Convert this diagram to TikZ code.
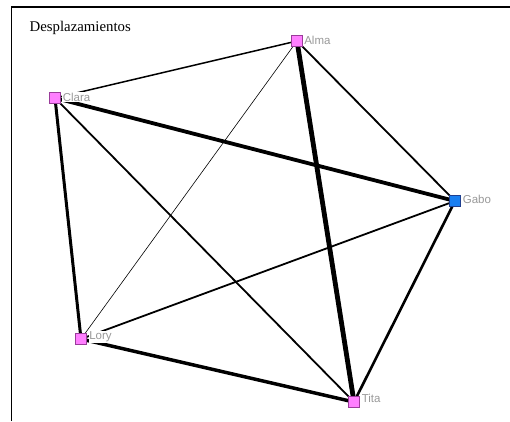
\documentclass[tikz,border=0pt]{standalone}
\usepackage{fontspec}
\setmainfont{Liberation Serif}
\setsansfont{Liberation Sans}
\definecolor{nodepink}{HTML}{FF7FFF}
\definecolor{pinkedge}{HTML}{9A3C9A}
\definecolor{nodeblue}{HTML}{1A7FF0}
\definecolor{blueedge}{HTML}{1F3F8F}
\definecolor{labgray}{HTML}{999999}
\tikzset{
  actor/.style={draw=pinkedge, fill=nodepink, line width=0.8pt, minimum size=11.5pt, inner sep=0pt},
  actorb/.style={actor, draw=blueedge, fill=nodeblue},
  lab/.style={font=\sffamily\fontsize{11.5}{11.5}\selectfont, text=labgray, fill=white, inner sep=0.6pt, anchor=west},
  tie/.style={line width=#1, line cap=round},
  frame/.style={line width=1.8pt}
}
\begin{document}
\begin{tikzpicture}[x=1pt,y=-1pt]
\useasboundingbox (0,0) rectangle (510,421);
\fill[white] (0,0) rectangle (510,421);
\draw[frame] (11.5,421) -- (11.5,7) -- (510,7);
\node[font=\fontsize{14.8}{15}\selectfont, anchor=west, inner sep=0pt] (title) at (29.5,28) {Desplazamientos};
% nodes
\node[actor] (alma) at (297,41) {};
\node[actor] (clara) at (55,98) {};
\node[actorb] (gabo) at (455,201) {};
\node[actor] (lory) at (81,339) {};
\node[actor] (tita) at (354,402) {};
% edges
\draw[tie=1.5pt] (alma.center) -- (clara.center);
\draw[tie=3.8pt] (clara.center) -- (gabo.center);
\draw[tie=3pt] (clara.center) -- (lory.center);
\draw[tie=1.8pt] (clara.center) -- (tita.center);
\draw[tie=0.6pt] (alma.center) -- (lory.center);
\draw[tie=4.8pt] (alma.center) -- (tita.center);
\draw[tie=1.8pt] (alma.center) -- (gabo.center);
\draw[tie=1.8pt] (gabo.center) -- (lory.center);
\draw[tie=2.6pt] (gabo.center) -- (tita.center);
\draw[tie=3.5pt] (lory.center) -- (tita.center);
% redraw nodes on top
\node[actor] at (alma) {};
\node[actor] at (clara) {};
\node[actorb] at (gabo) {};
\node[actor] at (lory) {};
\node[actor] at (tita) {};
% labels
\node[lab] (lalma) at (303.5,40) {Alma};
\node[lab] (lclara) at (62,97) {Clara};
\node[lab] (lgabo) at (462,199) {Gabo};
\node[lab] (llory) at (88.5,337) {Lory};
\node[lab] (ltita) at (361,398) {Tita};
\end{tikzpicture}
\end{document}
